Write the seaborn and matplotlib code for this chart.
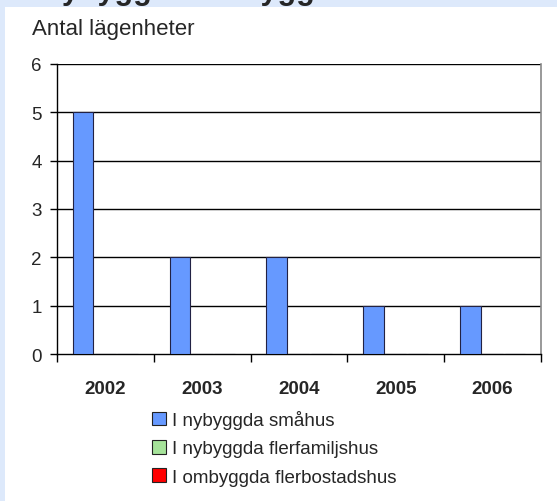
import matplotlib
matplotlib.use("Agg")
import matplotlib.pyplot as plt
import matplotlib.patches as mpatches
import seaborn as sns
import pandas as pd

years = ["2002", "2003", "2004", "2005", "2006"]
series = ["I nybyggda småhus", "I nybyggda flerfamiljshus", "I ombyggda flerbostadshus"]
smahus = [5, 2, 2, 1, 1]
flerfamiljshus = [0, 0, 0, 0, 0]
ombyggda = [0, 0, 0, 0, 0]
colors = ["#6699ff", "#a6e39a", "#ff0000"]
yticks = [0, 1, 2, 3, 4, 5, 6]

rows = []
for s, vals in zip(series, [smahus, flerfamiljshus, ombyggda]):
    for y, v in zip(years, vals):
        rows.append({"År": y, "Serie": s, "Antal": v})
df = pd.DataFrame(rows)

sns.set_theme(style="white")
plt.rcParams["font.family"] = ["Liberation Sans", "DejaVu Sans"]

W, H = 557, 502
fig = plt.figure(figsize=(W / 100, H / 100), dpi=100)
fig.patch.set_facecolor("#dde9fb")
# white panel
bg = fig.add_axes([5 / W, 0, 1 - 5 / W, 1 - 8 / H], zorder=0)
bg.set_facecolor("white")
bg.set_axis_off()
bg.add_patch(mpatches.Rectangle((0, 0), 1, 1, transform=bg.transAxes,
                                facecolor="white", edgecolor="none"))

ax = fig.add_axes([57 / W, 1 - 355 / H, (541 - 57) / W, (355 - 65) / H], zorder=2)
ax.set_facecolor("white")

sns.barplot(data=df, x="År", y="Antal", hue="Serie", hue_order=series, order=years,
            palette=colors, width=0.69, gap=0.07, edgecolor="#222244", linewidth=0.8,
            saturation=1, legend=False, ax=ax, zorder=3)

ax.set_ylim(0, 6)
ax.set_xlim(-0.5, 4.5)
ax.set_yticks(yticks)
ax.set_yticklabels([str(t) for t in yticks], fontsize=13.5)
for t in yticks[1:]:
    ax.axhline(t, color="black", linewidth=1.0, zorder=1)
ax.set_xlabel("")
ax.set_ylabel("")
ax.tick_params(axis="y", which="major", direction="out", length=5, width=1, color="black",
               pad=6, left=True)
ax.tick_params(axis="x", which="major", length=0, pad=19)
ax.set_xticks([-0.5, 0.5, 1.5, 2.5, 3.5, 4.5], minor=True)
ax.tick_params(axis="x", which="minor", direction="out", length=6, width=1, color="black",
               bottom=True)
for lab in ax.get_xticklabels():
    lab.set_fontweight("bold")
    lab.set_fontsize(13.5)

for side in ["left", "bottom"]:
    ax.spines[side].set_color("black")
    ax.spines[side].set_linewidth(1.0)
ax.spines["top"].set_visible(False)
ax.spines["right"].set_color("#888888")
ax.spines["right"].set_linewidth(1.2)

fig.text(32 / W, 1 - 35 / H, "Antal lägenheter", fontsize=16, ha="left", va="baseline")
fig.text(40 / W, 1 + 1 / H, "Nybyggda/ombyggda", fontsize=22, fontweight="bold",
         ha="left", va="baseline")

handles = [mpatches.Patch(facecolor=c, edgecolor="#222222", linewidth=0.8) for c in colors]
fig.legend(handles, series, loc="upper left", bbox_to_anchor=(152 / W, 1 - 411 / H),
           frameon=False, fontsize=13.5, handlelength=0.75, handleheight=0.75,
           handletextpad=0.3, labelspacing=0.58, borderpad=0, borderaxespad=0)

fig.savefig("out.png", dpi=100, facecolor=fig.get_facecolor())
